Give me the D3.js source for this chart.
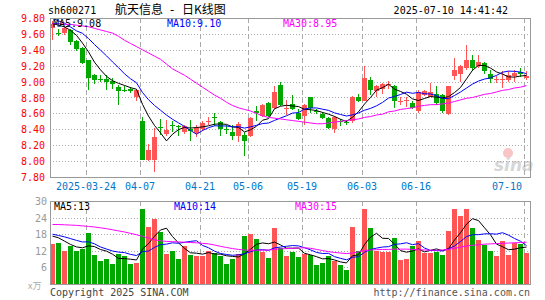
<!DOCTYPE html>
<html>
<head>
<meta charset="utf-8">
<script src="https://cdn.jsdelivr.net/npm/d3@7"></script>
<style>
  body { margin: 0; background: #fff; }
  text { font-family: "DejaVu Sans Mono", monospace; }
</style>
</head>
<body>
<svg id="grafico"></svg>
<script>
const WIDTH = 545,
    HEIGHT = 300;

const panel = { left: 50, right: 530, top: 18, bottom: 177 };
const panelVol = { top: 201, bottom: 284 };

// trading days shown
const dates = [
    "2025-03-14", "2025-03-17", "2025-03-18", "2025-03-19", "2025-03-20", "2025-03-21", "2025-03-24", "2025-03-25",
    "2025-03-26", "2025-03-27", "2025-03-28", "2025-03-31", "2025-04-01", "2025-04-02", "2025-04-03", "2025-04-07",
    "2025-04-08", "2025-04-09", "2025-04-10", "2025-04-11", "2025-04-14", "2025-04-15", "2025-04-16", "2025-04-17",
    "2025-04-18", "2025-04-21", "2025-04-22", "2025-04-23", "2025-04-24", "2025-04-25", "2025-04-28", "2025-04-29",
    "2025-04-30", "2025-05-06", "2025-05-07", "2025-05-08", "2025-05-09", "2025-05-12", "2025-05-13", "2025-05-14",
    "2025-05-15", "2025-05-16", "2025-05-19", "2025-05-20", "2025-05-21", "2025-05-22", "2025-05-23", "2025-05-26",
    "2025-05-27", "2025-05-28", "2025-05-29", "2025-05-30", "2025-06-03", "2025-06-04", "2025-06-05", "2025-06-06",
    "2025-06-09", "2025-06-10", "2025-06-11", "2025-06-12", "2025-06-13", "2025-06-16", "2025-06-17", "2025-06-18",
    "2025-06-19", "2025-06-20", "2025-06-23", "2025-06-24", "2025-06-25", "2025-06-26", "2025-06-27", "2025-06-30",
    "2025-07-01", "2025-07-02", "2025-07-03", "2025-07-04", "2025-07-07", "2025-07-08", "2025-07-09", "2025-07-10"
];

const open = [
    9.67, 9.61, 9.61, 9.65, 9.51, 9.42, 9.27, 9.08, 9.03, 9.03, 9.01, 8.93, 8.90, 8.91, 8.80, 8.51,
    8.01, 8.01, 8.43, 8.34, 8.46, 8.44, 8.37, 8.40, 8.35, 8.41, 8.49, 8.55, 8.49, 8.40, 8.36, 8.32,
    8.33, 8.31, 8.63, 8.57, 8.73, 8.67, 8.96, 8.66, 8.72, 8.60, 8.57, 8.80, 8.63, 8.59, 8.54, 8.41,
    8.50, 8.49, 8.50, 8.81, 8.76, 9.02, 8.88, 8.91, 8.96, 8.94, 8.74, 8.76, 8.73, 8.63, 8.83, 8.81,
    8.84, 8.83, 8.59, 9.07, 9.09, 9.17, 9.27, 9.19, 9.23, 9.09, 9.02, 9.02, 9.02, 9.07, 9.12, 9.05
];
const high = [
    9.76, 9.66, 9.69, 9.66, 9.52, 9.43, 9.27, 9.10, 9.08, 9.08, 9.04, 8.96, 8.95, 8.93, 8.91, 8.56,
    8.22, 8.42, 8.53, 8.52, 8.51, 8.46, 8.46, 8.52, 8.46, 8.51, 8.56, 8.60, 8.51, 8.45, 8.45, 8.49,
    8.37, 8.55, 8.69, 8.72, 8.74, 8.94, 8.99, 8.77, 8.83, 8.65, 8.72, 8.80, 8.65, 8.62, 8.56, 8.57,
    8.53, 8.52, 8.82, 8.85, 9.20, 9.06, 8.96, 8.98, 9.01, 8.96, 8.80, 8.81, 8.75, 8.90, 8.89, 8.98,
    8.94, 8.85, 8.95, 9.30, 9.21, 9.46, 9.34, 9.34, 9.25, 9.15, 9.07, 9.13, 9.13, 9.15, 9.17, 9.13
];
const low = [
    9.52, 9.57, 9.59, 9.46, 9.38, 9.22, 8.90, 8.97, 9.00, 8.90, 8.91, 8.71, 8.87, 8.86, 8.76, 8.01,
    8.00, 7.86, 8.33, 8.31, 8.37, 8.31, 8.34, 8.25, 8.30, 8.38, 8.45, 8.44, 8.32, 8.34, 8.27, 8.24,
    8.06, 8.30, 8.50, 8.55, 8.56, 8.66, 8.69, 8.58, 8.64, 8.52, 8.45, 8.60, 8.59, 8.53, 8.41, 8.35,
    8.44, 8.45, 8.48, 8.74, 8.75, 8.83, 8.80, 8.84, 8.91, 8.67, 8.70, 8.68, 8.65, 8.60, 8.82, 8.80,
    8.70, 8.61, 8.58, 9.02, 9.00, 9.15, 9.13, 9.17, 9.10, 8.98, 8.98, 8.92, 9.00, 9.00, 9.06, 9.02
];
const close = [
    9.73, 9.60, 9.67, 9.50, 9.41, 9.24, 9.05, 9.02, 9.02, 9.00, 8.97, 8.88, 8.89, 8.88, 8.90, 8.02,
    8.14, 8.30, 8.42, 8.39, 8.44, 8.43, 8.44, 8.38, 8.42, 8.48, 8.50, 8.54, 8.40, 8.39, 8.32, 8.47,
    8.25, 8.54, 8.61, 8.70, 8.57, 8.87, 8.70, 8.67, 8.66, 8.53, 8.70, 8.67, 8.62, 8.54, 8.42, 8.56,
    8.49, 8.48, 8.81, 8.76, 9.05, 8.90, 8.94, 8.97, 8.97, 8.75, 8.75, 8.77, 8.67, 8.87, 8.88, 8.87,
    8.73, 8.63, 8.94, 9.14, 9.19, 9.27, 9.17, 9.25, 9.13, 9.03, 9.03, 9.03, 9.08, 9.11, 9.10, 9.07
];
// volume, 10k lots
const volume = [
    14.4, 14.9, 12.0, 13.7, 12.0, 12.8, 18.5, 10.6, 8.4, 9.1, 7.3, 10.9, 10.2, 7.3, 7.7, 27.1,
    20.6, 23.5, 18.7, 10.9, 12.0, 9.1, 13.8, 10.6, 10.2, 10.2, 12.0, 11.3, 10.2, 7.3, 9.1, 10.9,
    17.4, 18.1, 16.2, 11.6, 9.5, 20.3, 13.1, 10.2, 11.6, 9.8, 10.8, 10.4, 6.8, 7.7, 10.2, 8.4,
    6.8, 5.0, 20.6, 11.9, 27.0, 20.2, 11.9, 11.6, 11.6, 16.7, 8.6, 9.0, 13.7, 15.5, 11.3, 11.3,
    11.6, 10.4, 19.2, 27.0, 24.5, 27.0, 20.3, 15.8, 14.0, 11.9, 10.1, 15.6, 10.4, 15.0, 14.4, 11.3
];

// the days just before the window, needed for MA5 / MA10
const priorClose = [9.98, 9.95, 9.98, 9.90, 9.55, 9.70, 9.78, 9.72, 9.72];
const priorVolume = [19.5, 17.0, 20.0, 18.5, 18.5, 17.9, 18.0, 19.7, 16.5];

// MA30
const ma30 = [
    9.73, 9.73, 9.72, 9.72, 9.71, 9.70, 9.69, 9.67, 9.65, 9.63, 9.61, 9.57, 9.52, 9.48, 9.44, 9.40,
    9.36, 9.32, 9.28, 9.22, 9.16, 9.12, 9.08, 9.03, 8.98, 8.93, 8.88, 8.83, 8.79, 8.74, 8.70, 8.67,
    8.65, 8.63, 8.60, 8.57, 8.55, 8.54, 8.53, 8.52, 8.51, 8.50, 8.49, 8.48, 8.47, 8.47, 8.48, 8.49,
    8.50, 8.51, 8.52, 8.53, 8.55, 8.56, 8.58, 8.59, 8.62, 8.63, 8.65, 8.66, 8.67, 8.69, 8.70, 8.71,
    8.71, 8.72, 8.73, 8.75, 8.77, 8.79, 8.80, 8.82, 8.84, 8.85, 8.87, 8.89, 8.90, 8.92, 8.93, 8.95
];
const volMa30 = [
    21.5, 21.5, 21.4, 21.3, 21.2, 21.0, 20.8, 20.6, 20.3, 20.0, 19.6, 19.2, 18.8, 18.3, 17.8, 17.2,
    16.6, 16.0, 15.6, 15.4, 15.3, 15.2, 15.1, 15.0, 14.9, 14.7, 14.5, 14.1, 13.6, 13.2, 12.8, 12.5,
    12.3, 12.2, 12.2, 12.2, 12.3, 12.5, 12.7, 12.8, 12.9, 13.0, 13.1, 12.9, 12.5, 12.1, 11.7, 11.4,
    11.2, 11.0, 11.2, 11.6, 12.1, 12.3, 12.4, 12.5, 12.5, 12.6, 12.6, 12.6, 12.5, 12.4, 12.3, 12.2,
    12.2, 12.3, 12.5, 12.9, 13.3, 13.7, 14.0, 14.2, 14.4, 14.5, 14.6, 14.7, 14.8, 14.9, 15.0, 15.1
];

const priceTicks = [9.8, 9.6, 9.4, 9.2, 9.0, 8.8, 8.6, 8.4, 8.2, 8.0, 7.8];
const volTicks = [30, 24, 18, 12, 6];
const dateTicks = ["2025-03-24", "2025-04-07", "2025-04-21", "2025-05-06", "2025-05-19", "2025-06-03", "2025-06-16", "2025-07-10"];

const RED = "#ff5555", GREEN = "#00a800", GRID = "#aaaaaa";

const svg = d3.select("#grafico")
    .attr("width", WIDTH)
    .attr("height", HEIGHT)
    .attr("viewBox", `0 0 ${WIDTH} ${HEIGHT}`);

const escalaX = d3.scaleBand()
    .domain(dates)
    .range([panel.left, panel.right]);

const escalaPrecio = d3.scaleLinear()
    .domain([7.8, 9.8])
    .range([panel.bottom, panel.top]);

const escalaVol = d3.scaleLinear()
    .domain([0, 30])
    .range([panelVol.bottom, panelVol.top]);

const centro = i => escalaX(dates[i]) + 2.5;

const mediaMovil = (serie, previos, n) => {
    const todo = previos.concat(serie);
    return serie.map((_, i) => {
        const j = i + previos.length;
        return d3.mean(todo.slice(j - n + 1, j + 1));
    });
};

const ma5 = mediaMovil(close, priorClose, 5);
const ma10 = mediaMovil(close, priorClose, 10);
const volMa5 = mediaMovil(volume, priorVolume, 5);
const volMa10 = mediaMovil(volume, priorVolume, 10);

// header
svg.append("text").attr("x", 48).attr("y", 14).attr("font-size", 10).text("sh600271");
svg.append("text").attr("x", 115).attr("y", 14).attr("font-size", 12)
    .style("font-family", "'Noto Sans CJK SC', sans-serif").text("航天信息");
svg.append("text").attr("x", 172).attr("y", 14).attr("font-size", 12)
    .attr("text-anchor", "middle").text("-");
svg.append("text").attr("x", 182).attr("y", 14).attr("font-size", 12)
    .style("font-family", "'Noto Sans CJK SC', sans-serif").text("日K线图");
svg.append("text").attr("x", 508).attr("y", 14).attr("font-size", 10)
    .attr("text-anchor", "end").text("2025-07-10 14:41:42");

// watermark
const marca = svg.append("g").attr("opacity", 0.6);
marca.append("circle").attr("cx", 508).attr("cy", 153).attr("r", 5).attr("fill", "#f2a0a0");
marca.append("text").attr("x", 494).attr("y", 171).attr("font-size", 17)
    .attr("font-style", "italic").attr("font-weight", "bold")
    .style("font-family", "'DejaVu Sans', sans-serif")
    .attr("fill", "#bbbbbb").text("sina");

// grids
const rejilla = svg.append("g").attr("shape-rendering", "crispEdges");

rejilla.selectAll(".hp")
    .data(priceTicks.slice(1, -1))
    .join("line")
    .attr("x1", panel.left).attr("x2", panel.right)
    .attr("y1", d => Math.round(escalaPrecio(d)) + 0.5)
    .attr("y2", d => Math.round(escalaPrecio(d)) + 0.5)
    .attr("stroke", GRID).attr("stroke-dasharray", "1,2");

rejilla.selectAll(".hv")
    .data(volTicks.slice(1))
    .join("line")
    .attr("x1", panel.left).attr("x2", panel.right)
    .attr("y1", d => Math.round(escalaVol(d)) + 0.5)
    .attr("y2", d => Math.round(escalaVol(d)) + 0.5)
    .attr("stroke", GRID).attr("stroke-dasharray", "1,2");

[[panel.top, panel.bottom], [panelVol.top, panelVol.bottom]].forEach(([y1, y2]) => {
    rejilla.append("g")
        .selectAll("line")
        .data(dateTicks)
        .join("line")
        .attr("x1", d => escalaX(d) + 0.5).attr("x2", d => escalaX(d) + 0.5)
        .attr("y1", y1).attr("y2", y2)
        .attr("stroke", GRID).attr("stroke-dasharray", "5,3");
});

// candles
const velas = svg.append("g").attr("shape-rendering", "crispEdges");
const color = i => (close[i] >= open[i] ? RED : GREEN);

velas.selectAll("line")
    .data(dates)
    .join("line")
    .attr("x1", (d, i) => centro(i)).attr("x2", (d, i) => centro(i))
    .attr("y1", (d, i) => Math.round(escalaPrecio(high[i])))
    .attr("y2", (d, i) => Math.round(escalaPrecio(low[i])))
    .attr("stroke", (d, i) => color(i));

velas.selectAll("rect")
    .data(dates)
    .join("rect")
    .attr("x", d => escalaX(d))
    .attr("width", 5)
    .attr("y", (d, i) => Math.round(escalaPrecio(Math.max(open[i], close[i]))))
    .attr("height", (d, i) => Math.max(1,
        Math.round(escalaPrecio(Math.min(open[i], close[i]))) - Math.round(escalaPrecio(Math.max(open[i], close[i])))))
    .attr("fill", (d, i) => color(i));

// volume bars
svg.append("g").attr("shape-rendering", "crispEdges")
    .selectAll("rect")
    .data(volume)
    .join("rect")
    .attr("x", (d, i) => escalaX(dates[i]))
    .attr("width", 5)
    .attr("y", d => Math.round(escalaVol(d)))
    .attr("height", d => panelVol.bottom - Math.round(escalaVol(d)))
    .attr("fill", (d, i) => color(i));

// moving averages
svg.append("clipPath").attr("id", "clip-precio")
    .append("rect").attr("x", panel.left).attr("y", panel.top)
    .attr("width", panel.right - panel.left).attr("height", panel.bottom - panel.top);

const lineaPrecio = d3.line().x((d, i) => centro(i)).y(d => escalaPrecio(d));
const lineaVol = d3.line().x((d, i) => centro(i)).y(d => escalaVol(d));

const lineas = svg.append("g").attr("fill", "none").attr("stroke-width", 1);
[[ma5, "#000000"], [ma10, "#0000ff"], [ma30, "#ff00ff"]].forEach(([serie, c]) => {
    lineas.append("path").attr("d", lineaPrecio(serie)).attr("stroke", c)
        .attr("clip-path", "url(#clip-precio)");
});
[[volMa5, "#000000"], [volMa10, "#0000ff"], [volMa30, "#ff00ff"]].forEach(([serie, c]) => {
    lineas.append("path").attr("d", lineaVol(serie)).attr("stroke", c);
});

// borders
const bordes = svg.append("g").attr("fill", "none").attr("stroke", "#999999").attr("shape-rendering", "crispEdges");
bordes.append("rect").attr("x", panel.left + 0.5).attr("y", panel.top + 0.5)
    .attr("width", panel.right - panel.left).attr("height", panel.bottom - panel.top);
bordes.append("rect").attr("x", panel.left + 0.5).attr("y", panelVol.top + 0.5)
    .attr("width", panel.right - panel.left).attr("height", panelVol.bottom - panelVol.top);

// axis labels
svg.append("g").selectAll("text")
    .data(priceTicks)
    .join("text")
    .attr("x", 45).attr("y", d => escalaPrecio(d) + 4)
    .attr("text-anchor", "end").attr("font-size", 10).attr("fill", "#ff0000")
    .text(d => d.toFixed(2));

svg.append("g").selectAll("text")
    .data(volTicks)
    .join("text")
    .attr("x", 47).attr("y", d => escalaVol(d) + 4)
    .attr("text-anchor", "end").attr("font-size", 10).attr("fill", "#999999")
    .text(d => d);
svg.append("text").attr("x", 28).attr("y", 289).attr("font-size", 9).attr("fill", "#aaaaaa")
    .style("font-family", "'Noto Sans CJK SC', sans-serif").text("x万");

const etiquetasFecha = svg.append("g").selectAll("text")
    .data(dateTicks)
    .join("text")
    .attr("y", 190).attr("font-size", 10).attr("fill", "#0077cc")
    .attr("text-anchor", "middle")
    .text((d, i) => (i === 0 ? d : d.slice(5)));
etiquetasFecha.attr("x", function (d) {
    const w = this.getComputedTextLength();
    return Math.min(escalaX(d), 522 - w / 2);
});

// legends
const ultimo = dates.length - 1;
const leyendaPrecio = [
    ["MA5", ma5[ultimo], "#000000", 53],
    ["MA10", ma10[ultimo], "#0000ff", 167],
    ["MA30", ma30[ultimo], "#ff00ff", 283]
];
svg.append("g").selectAll("text")
    .data(leyendaPrecio)
    .join("text")
    .attr("x", d => d[3]).attr("y", 27).attr("font-size", 10).attr("fill", d => d[2])
    .text(d => `${d[0]}:${d[1].toFixed(2)}`);

const leyendaVol = [
    ["MA5", volMa5[ultimo], "#000000", 54],
    ["MA10", volMa10[ultimo], "#0000ff", 174],
    ["MA30", volMa30[ultimo], "#ff00ff", 295]
];
svg.append("g").selectAll("text")
    .data(leyendaVol)
    .join("text")
    .attr("x", d => d[3]).attr("y", 210).attr("font-size", 10).attr("fill", d => d[2])
    .text(d => `${d[0]}:${Math.round(d[1])}`);

// footer
svg.append("text").attr("x", 50).attr("y", 296).attr("font-size", 10).attr("fill", "#444444")
    .text("Copyright 2025 SINA.COM");
svg.append("text").attr("x", 530).attr("y", 296).attr("font-size", 10).attr("fill", "#555555")
    .attr("text-anchor", "end").text("http://finance.sina.com.cn");
</script>
</body>
</html>
